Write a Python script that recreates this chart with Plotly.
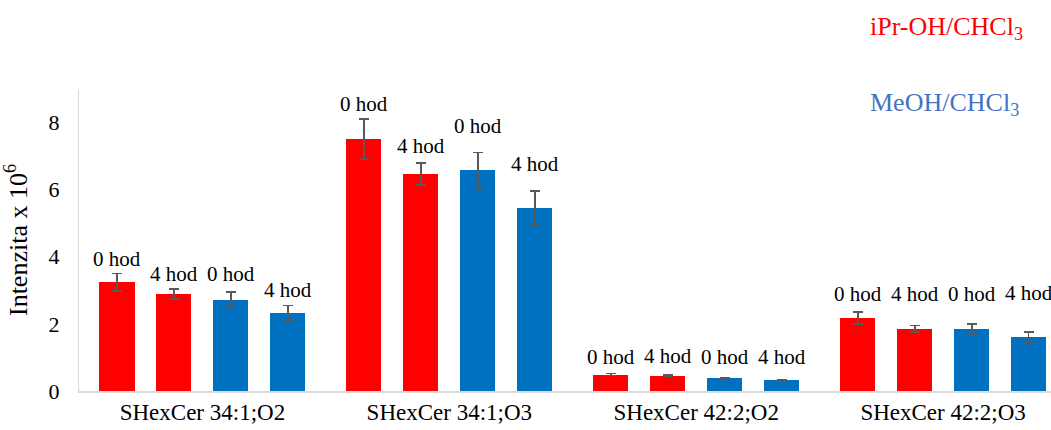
import plotly.graph_objects as go

# Lipid species (x categories)
categories = ["SHexCer 34:1;O2", "SHexCer 34:1;O3", "SHexCer 42:2;O2", "SHexCer 42:2;O3"]

# Intensities (x 10^6) and their errors
ipr_0h = [3.24, 7.51, 0.49, 2.18]
ipr_0h_err = [0.26, 0.60, 0.03, 0.18]
ipr_4h = [2.89, 6.47, 0.45, 1.85]
ipr_4h_err = [0.15, 0.33, 0.02, 0.10]
meoh_0h = [2.72, 6.58, 0.38, 1.84]
meoh_0h_err = [0.22, 0.53, 0.02, 0.16]
meoh_4h = [2.33, 5.45, 0.32, 1.60]
meoh_4h_err = [0.22, 0.50, 0.02, 0.15]

bar_labels = ["0 hod", "4 hod", "0 hod", "4 hod"]
y_ticks = [0, 2, 4, 6, 8]

RED = "#FF0000"
BLUE = "#0070C0"
SERIF = "Liberation Serif"

# vertical gap (px) between each error-bar cap and its time label
label_lift = [
    [15, 15, 17, 18],   # 0 hod, iPr-OH
    [15, 17, 19, 32],   # 4 hod, iPr-OH
    [18, 26, 21, 30],   # 0 hod, MeOH
    [15, 27, 23, 39],   # 4 hod, MeOH
]

series = [
    (ipr_0h, ipr_0h_err, RED, bar_labels[0]),
    (ipr_4h, ipr_4h_err, RED, bar_labels[1]),
    (meoh_0h, meoh_0h_err, BLUE, bar_labels[2]),
    (meoh_4h, meoh_4h_err, BLUE, bar_labels[3]),
]

step = 0.2308
bar_w = 0.142
offsets = [-1.5 * step, -0.5 * step, 0.5 * step, 1.5 * step]

fig = go.Figure()
for s, ((vals, errs, color, lab), off) in enumerate(zip(series, offsets)):
    xs = [i + off for i in range(len(categories))]
    fig.add_trace(go.Bar(
        x=xs, y=vals, width=bar_w,
        marker=dict(color=color, line=dict(width=0)),
        error_y=dict(type="data", array=errs, visible=True,
                     color="#595959", thickness=1.8, width=5),
        showlegend=False, hoverinfo="y",
    ))
    for g, (x, v, e) in enumerate(zip(xs, vals, errs)):
        fig.add_annotation(
            x=x, y=v + e, text=lab, showarrow=False,
            xanchor="center", yanchor="middle", yshift=label_lift[s][g],
            font=dict(family=SERIF, size=21, color="#000000"),
        )

fig.add_annotation(text="iPr-OH/CHCl<sub>3</sub>", xref="paper", yref="paper",
                   x=0.812, y=1.202, xanchor="left", yanchor="middle", showarrow=False,
                   font=dict(family=SERIF, size=26, color=RED))
fig.add_annotation(text="MeOH/CHCl<sub>3</sub>", xref="paper", yref="paper",
                   x=0.812, y=0.950, xanchor="left", yanchor="middle", showarrow=False,
                   font=dict(family=SERIF, size=26, color="#4472C4"))

fig.update_layout(
    width=1051, height=430,
    margin=dict(l=78.5, r=0, t=89, b=38.5),
    plot_bgcolor="white", paper_bgcolor="white",
    font=dict(family=SERIF, color="#000000"),
    bargap=0,
    xaxis=dict(
        range=[-0.5, 3.437], tickmode="array",
        tickvals=list(range(len(categories))), ticktext=categories,
        showgrid=False, zeroline=False, showline=True,
        linecolor="#D9D9D9", linewidth=1.5, ticks="",
        tickfont=dict(family=SERIF, size=23, color="#000000"),
    ),
    yaxis=dict(
        range=[0, 9], tickmode="array", tickvals=y_ticks,
        showgrid=False, zeroline=False, showline=True,
        linecolor="#D9D9D9", linewidth=1, ticks="",
        ticklabelstandoff=14,
        tickfont=dict(family=SERIF, size=22, color="#000000"),
        title=dict(text="Intenzita x 10<sup>6</sup>", standoff=14,
                   font=dict(family=SERIF, size=26, color="#000000")),
    ),
)

fig.write_html("out.html")
